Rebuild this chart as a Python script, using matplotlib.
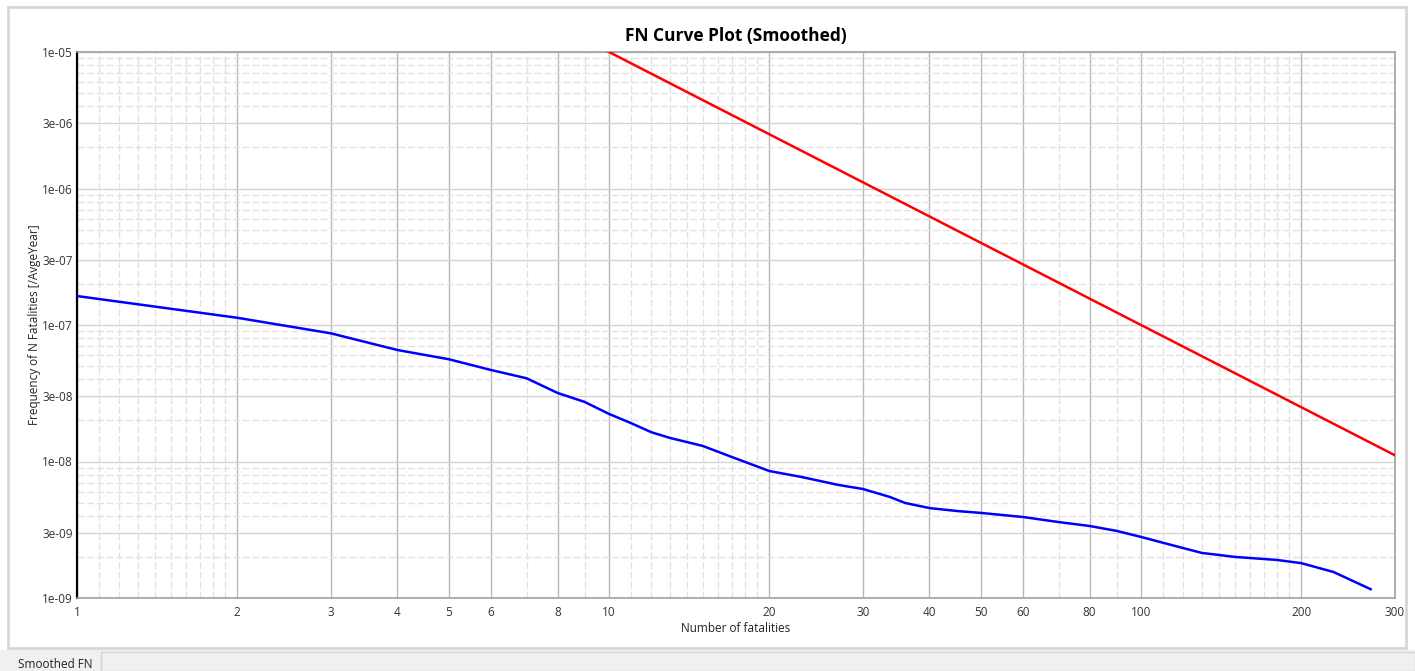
import matplotlib
matplotlib.use("Agg")
import matplotlib.pyplot as plt
from matplotlib.patches import Rectangle
from matplotlib.ticker import FixedLocator, NullFormatter

plt.rcParams["font.family"] = ["Open Sans", "DejaVu Sans"]

# smoothed FN curve
fn_n = [1, 2, 3, 4, 5, 6, 7, 8, 9, 10, 11, 12, 13, 15, 17, 20, 23, 27, 30,
        33.7, 36, 40, 45, 50, 60, 70, 80, 90, 100, 120, 130, 150, 180, 200,
        230, 270]
fn_freq = [1.63e-7, 1.13e-7, 8.69e-8, 6.56e-8, 5.61e-8, 4.68e-8, 4.07e-8,
           3.18e-8, 2.73e-8, 2.23e-8, 1.91e-8, 1.64e-8, 1.49e-8, 1.30e-8,
           1.08e-8, 8.52e-9, 7.7e-9, 6.73e-9, 6.29e-9, 5.5e-9, 4.97e-9,
           4.56e-9, 4.34e-9, 4.2e-9, 3.92e-9, 3.6e-9, 3.37e-9, 3.1e-9,
           2.8e-9, 2.32e-9, 2.14e-9, 2.0e-9, 1.9e-9, 1.8e-9, 1.55e-9,
           1.16e-9]

# criterion line
crit_n = [1, 300]
crit_freq = [1e-3, 1.11e-8]

x_ticks = [1, 2, 3, 4, 5, 6, 8, 10, 20, 30, 40, 50, 60, 80, 100, 200, 300]
x_tick_labels = [str(v) for v in x_ticks]
y_ticks = [1e-9, 3e-9, 1e-8, 3e-8, 1e-7, 3e-7, 1e-6, 3e-6, 1e-5]
y_tick_labels = ["1e-09", "3e-09", "1e-08", "3e-08", "1e-07", "3e-07",
                 "1e-06", "3e-06", "1e-05"]

W, H = 1415, 671
fig = plt.figure(figsize=(W / 100, H / 100), dpi=100)
fig.patch.set_facecolor("white")

# window chrome
fig.patches.append(Rectangle((8 / W, 1 - 648 / H), 1398 / W, 641 / H,
                             transform=fig.transFigure, facecolor="white",
                             edgecolor="#d6d6d6", lw=2, zorder=-5))
fig.patches.append(Rectangle((0, 0), 1, 1 - 650 / H, transform=fig.transFigure,
                             facecolor="#f0f0f0", edgecolor="none", zorder=-5))
fig.patches.append(Rectangle((101 / W, 0), 1 - 101 / W, 1 - 652 / H,
                             transform=fig.transFigure, facecolor="#f0f0f0",
                             edgecolor="#d4d4d4", lw=1, zorder=-5))
fig.text(55 / W, 1 - 664 / H, "Smoothed FN", ha="center", va="center",
         fontsize=8.5, color="#222222")

ax = fig.add_axes([77 / W, 1 - 598 / H, 1318 / W, 546 / H])
ax.set_xscale("log")
ax.set_yscale("log")
ax.set_xlim(1, 300)
ax.set_ylim(1e-9, 1e-5)

ax.plot(crit_n, crit_freq, color="#ff0000", lw=1.8, zorder=3)
ax.plot(fn_n, fn_freq, color="#0000ff", lw=1.8, zorder=3)

# minor grid positions between major ticks
x_minor = []
for m in range(11, 20):
    x_minor += [m / 10, m, m * 10]
x_minor += [7, 9, 70, 90]
y_minor = []
for e in range(-9, -5):
    for m in [2, 4, 5, 6, 7, 8, 9]:
        y_minor.append(m * 10.0 ** e)

ax.xaxis.set_major_locator(FixedLocator(x_ticks))
ax.xaxis.set_minor_locator(FixedLocator(x_minor))
ax.set_xticklabels(x_tick_labels)
ax.xaxis.set_minor_formatter(NullFormatter())
ax.yaxis.set_major_locator(FixedLocator(y_ticks))
ax.yaxis.set_minor_locator(FixedLocator(y_minor))
ax.set_yticklabels(y_tick_labels)
ax.yaxis.set_minor_formatter(NullFormatter())

ax.tick_params(which="both", length=0, labelsize=8.5, colors="#333333")
ax.tick_params(axis="x", pad=6)
ax.tick_params(axis="y", pad=3)

ax.xaxis.grid(True, which="major", color="#b8b8b8", lw=1, ls="-")
ax.yaxis.grid(True, which="major", color="#d4d4d4", lw=1, ls="-")
ax.grid(True, which="minor", color="#e2e2e2", lw=1, ls=(0, (5, 2)))
ax.set_axisbelow(True)

for side in ["top", "right", "bottom"]:
    ax.spines[side].set_color("#a0a0a0")
    ax.spines[side].set_linewidth(1.2)
ax.spines["left"].set_color("#000000")
ax.spines["left"].set_linewidth(1.6)

ax.set_title("FN Curve Plot (Smoothed)", fontsize=12.5, fontweight="bold",
             pad=8)
ax.set_xlabel("Number of fatalities", fontsize=8.5, labelpad=2,
              color="#222222")
ax.set_ylabel("Frequency of N Fatalities [/AvgeYear]", fontsize=8.5,
              labelpad=0.5, color="#222222")

fig.savefig("out.png", dpi=100)
